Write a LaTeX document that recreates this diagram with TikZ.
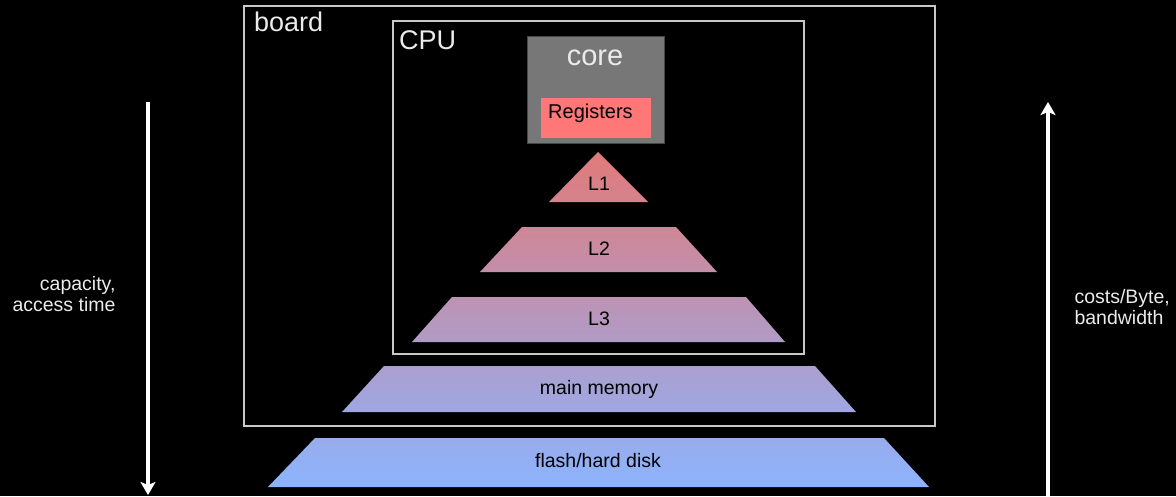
\documentclass[tikz,border=0pt]{standalone}
\usepackage{fontspec}
\setmainfont{Liberation Sans}
\usetikzlibrary{arrows.meta}
\definecolor{frame}{RGB}{200,200,200}
\definecolor{coregray}{RGB}{119,119,119}
\definecolor{coreedge}{RGB}{70,70,70}
\definecolor{regred}{RGB}{255,119,119}
\definecolor{topc}{RGB}{225,122,122}
\definecolor{botc}{RGB}{140,180,255}
\definecolor{softwhite}{RGB}{235,235,235}
\tikzset{
  frame/.style={draw=frame, line width=1.8pt},
  level/.style={text=black, font=\fontsize{19.5}{22}\selectfont},
  side/.style={text=softwhite, font=\fontsize{19.5}{21.5}\selectfont},
  axis/.style={draw=white, line width=3.2pt, -{Stealth[width=15pt,length=13pt,inset=3pt]}},
}
\begin{document}
\begin{tikzpicture}[x=1pt,y=-1pt]
\fill[black] (0,0) rectangle (1176,496);
\useasboundingbox (0,0) rectangle (1176,496);

% board and CPU frames
\draw[frame] (244,6) rectangle (935,426);
\node[anchor=west, text=softwhite, font=\fontsize{27}{29}\selectfont, inner sep=0pt] (board) at (254,22) {board};
\draw[frame] (393,21) rectangle (804,354);
\node[anchor=west, text=softwhite, font=\fontsize{27}{29}\selectfont, inner sep=0pt] (cpu) at (399,40) {CPU};

% core with registers
\draw[fill=coregray, draw=coreedge, line width=0.8pt] (527,36) rectangle (664,143);
\node[text=softwhite, font=\fontsize{29}{31}\selectfont, inner sep=0pt] (core) at (595,58) {core};
\fill[regred] (541,98) rectangle (651,138);
\node[anchor=west, text=black, font=\fontsize{20}{22}\selectfont, inner sep=0pt] (regs) at (548,113) {Registers};

% memory hierarchy levels, shaded from red (top) to blue (bottom)
\shade[top color=topc, bottom color=botc!15!topc] (598,152) -- (648,202) -- (549,202) -- cycle;
\node[level] (l1) at (599,184) {L1};
\shade[top color=botc!22!topc, bottom color=botc!36!topc] (522,227) -- (676,227) -- (717,272) -- (480,272) -- cycle;
\node[level] (l2) at (599,249) {L2};
\shade[top color=botc!43!topc, bottom color=botc!57!topc] (452,297) -- (746,297) -- (785,342) -- (412,342) -- cycle;
\node[level] (l3) at (599,319) {L3};
\shade[top color=botc!64!topc, bottom color=botc!78!topc] (384,366) -- (815,366) -- (856,412) -- (342,412) -- cycle;
\node[level] (mem) at (599,389) {main memory};
\shade[top color=botc!85!topc, bottom color=botc] (315,438) -- (884,438) -- (929,487) -- (268,487) -- cycle;
\node[level] (disk) at (598,461) {flash/hard disk};

% side axes
\coordinate (ltop) at (148,102);
\coordinate (lbot) at (148,495);
\draw[axis] (ltop) -- (lbot);
\node[side, anchor=east, align=right] (ltext) at (119,294) {capacity,\\access time};

\coordinate (rbot) at (1048,496);
\coordinate (rtop) at (1048,102);
\draw[axis] (rbot) -- (rtop);
\node[side, anchor=west, align=left] (rtext) at (1071,307) {costs/Byte,\\bandwidth};
\end{tikzpicture}
\end{document}
